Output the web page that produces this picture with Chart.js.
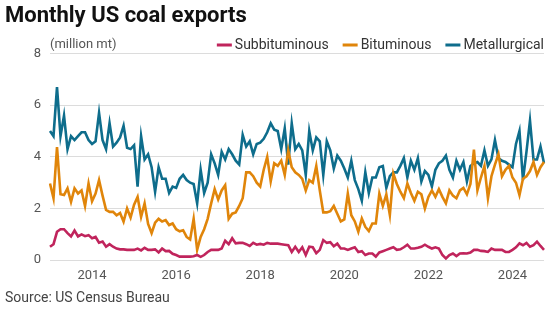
<!DOCTYPE html>
<html>
<head>
<meta charset="utf-8">
<script src="https://cdn.jsdelivr.net/npm/chart.js@4.4.1/dist/chart.umd.min.js"></script>
<style>
  html, body { margin: 0; padding: 0; background: #fff; }
</style>
</head>
<body>
<canvas id="coalChart" width="554" height="323"></canvas>
<script>
// months Jan 2013 .. Oct 2024
const startYear = 2013, endYear = 2024, endMonth = 10;
const months = [];
for (let y = startYear; y <= endYear; y++) {
  for (let m = 1; m <= 12; m++) {
    if (y === endYear && m > endMonth) break;
    months.push(y + '-' + String(m).padStart(2, '0'));
  }
}
const yearTicks = ['2014', '2016', '2018', '2020', '2022', '2024'];

const subbituminous = [
  0.52, 0.62, 1.1, 1.2, 1.2, 1.05, 0.92, 1.15, 0.92, 1.0, 0.93, 0.97,
  0.85, 0.9, 0.68, 0.72, 0.52, 0.62, 0.52, 0.45, 0.42, 0.42, 0.4, 0.4,
  0.4, 0.45, 0.38, 0.48, 0.4, 0.4, 0.42, 0.3, 0.45, 0.35, 0.36, 0.25,
  0.2, 0.14, 0.14, 0.14, 0.14, 0.15, 0.2, 0.13, 0.2, 0.32, 0.4, 0.4,
  0.4, 0.45, 0.75, 0.62, 0.85, 0.65, 0.67, 0.67, 0.62, 0.55, 0.67, 0.6,
  0.63, 0.6, 0.67, 0.64, 0.64, 0.64, 0.62, 0.6, 0.58, 0.32, 0.52, 0.32,
  0.5, 0.2, 0.52, 0.5, 0.27, 0.4, 0.78, 0.67, 0.7, 0.54, 0.64, 0.45,
  0.45, 0.4, 0.45, 0.5, 0.32, 0.35, 0.2, 0.26, 0.26, 0.14, 0.3, 0.35,
  0.4, 0.45, 0.5, 0.4, 0.42, 0.5, 0.6, 0.45, 0.45, 0.48, 0.52, 0.6,
  0.52, 0.45, 0.5, 0.45, 0.2, 0.07, 0.2, 0.26, 0.16, 0.26, 0.27, 0.26,
  0.3, 0.4, 0.4, 0.36, 0.35, 0.32, 0.45, 0.4, 0.4, 0.4, 0.32, 0.32,
  0.4, 0.5, 0.65, 0.58, 0.67, 0.52, 0.58, 0.72, 0.55, 0.4
];

const bituminous = [
  2.97, 2.4, 4.38, 2.55, 2.52, 2.78, 2.26, 2.78, 2.58, 2.7, 2.1, 2.97,
  2.28, 2.58, 3.1, 2.5, 1.95, 1.87, 1.87, 1.74, 1.83, 1.49, 2.0, 1.65,
  2.15, 2.45, 1.68, 2.2, 1.4, 1.05, 1.45, 1.6, 1.5, 1.55, 1.36, 1.42,
  1.2, 1.12, 1.16, 0.9, 0.8, 1.6, 0.4, 0.9, 1.2, 1.6, 2.2, 2.75,
  2.35, 2.7, 2.9, 1.6, 1.8, 1.85, 2.1, 2.4, 3.4, 3.4, 3.25, 3.0,
  2.85, 3.5, 4.0, 3.05, 3.75, 3.65, 3.85, 3.3, 4.25, 3.6, 3.4, 3.3,
  3.15, 2.7, 3.1, 3.0, 3.65, 2.7, 1.85, 1.85, 1.9, 2.1, 1.8, 1.5,
  1.58, 2.58, 1.74, 1.5, 1.1, 1.61, 1.29, 1.13, 1.42, 1.42, 2.58, 2.1,
  2.55, 1.75, 3.35, 2.95, 2.65, 2.4, 2.97, 2.6, 2.3, 2.65, 2.55, 2.0,
  2.45, 2.7, 2.45, 2.75, 2.45, 2.2, 2.7, 2.5, 2.4, 2.7, 2.8, 2.55,
  2.95, 4.28, 2.7, 3.2, 3.65, 2.4, 3.25, 3.7, 4.1, 3.25, 3.5, 3.65,
  3.2, 3.0, 2.52, 3.15, 3.25, 3.45, 3.8, 3.3, 3.6, 3.8
];

const metallurgical = [
  5.0, 4.8, 6.7, 4.8, 5.6, 4.3, 4.8, 4.65, 4.8, 4.95, 4.95, 4.65,
  4.5, 4.6, 5.7, 4.65, 4.3, 5.3, 4.4, 4.55, 4.75, 5.2, 4.35, 4.3,
  4.45, 2.85, 4.8, 3.9, 4.1, 3.6, 2.65, 3.6, 3.15, 3.15, 2.6, 2.85,
  2.8, 3.15, 3.3, 3.1, 3.0, 2.95, 2.2, 3.5, 2.6, 3.0, 4.1, 3.75,
  3.3, 4.2, 3.9, 4.3, 4.1, 3.85, 3.7, 4.85, 4.4, 4.6, 4.1, 4.5,
  4.55, 4.7, 4.95, 5.3, 5.05, 5.0, 4.3, 5.1, 3.7, 5.3, 4.3, 4.5,
  4.25, 3.3, 5.0, 4.25, 4.75, 4.6, 3.3, 4.6, 4.25, 3.55, 4.05, 3.85,
  3.55, 3.2, 3.85, 3.1, 2.75, 2.3, 3.4, 2.6, 3.2, 3.2, 3.6, 3.65,
  2.8, 3.25, 3.4, 3.4, 3.65, 3.95, 3.2, 3.85, 3.5, 3.95, 3.05, 3.45,
  3.3, 2.85, 3.5, 3.75, 3.85, 4.05, 3.5, 3.2, 3.85, 3.5, 3.8, 3.05,
  3.65, 3.75, 3.8, 3.65, 4.25, 3.65, 3.9, 4.65, 3.95, 3.85, 3.8, 3.7,
  3.6, 4.5, 5.0, 3.1, 4.2, 5.4, 3.9, 3.9, 4.4, 3.75
];

const fontFamily = 'Roboto, "Liberation Sans", sans-serif';

// legend row and unit label, drawn in the gap between title and plot
const legendRow = {
  id: 'legendRow',
  afterDraw(chart) {
    const ctx = chart.ctx;
    const y = 45;
    ctx.save();
    ctx.textBaseline = 'middle';
    ctx.textAlign = 'left';
    ctx.font = '13px ' + fontFamily;
    ctx.fillStyle = '#555';
    ctx.fillText('(million mt)', 50, y);
    ctx.font = '14px ' + fontFamily;
    let x = chart.chartArea.right;
    const sets = chart.data.datasets;
    for (let i = sets.length - 1; i >= 0; i--) {
      const w = ctx.measureText(sets[i].label).width;
      x -= w;
      ctx.fillStyle = '#333';
      ctx.fillText(sets[i].label, x, y);
      x -= 3 + 15;
      ctx.fillStyle = sets[i].borderColor;
      ctx.fillRect(x, y - 1.5, 15, 3);
      x -= 14;
    }
    ctx.restore();
  }
};

new Chart(document.getElementById('coalChart'), {
  type: 'line',
  data: {
    labels: months,
    datasets: [
      { label: 'Subbituminous', data: subbituminous, borderColor: '#c0245c', backgroundColor: '#c0245c' },
      { label: 'Bituminous', data: bituminous, borderColor: '#e0850a', backgroundColor: '#e0850a' },
      { label: 'Metallurgical', data: metallurgical, borderColor: '#0e6d8c', backgroundColor: '#0e6d8c' }
    ]
  },
  options: {
    responsive: false,
    animation: false,
    elements: {
      line: { borderWidth: 2.6, tension: 0 },
      point: { radius: 0 }
    },
    layout: { padding: { left: 5, right: 10, top: 0, bottom: 16 } },
    plugins: {
      legend: { display: false },
      tooltip: { enabled: false },
      title: {
        display: true,
        text: 'Monthly US coal exports',
        align: 'start',
        color: '#111',
        font: { family: fontFamily, size: 22, weight: 'bold' },
        padding: { top: 3.5, bottom: 23.6 }
      },
      subtitle: {
        display: true,
        position: 'bottom',
        text: 'Source: US Census Bureau',
        align: 'start',
        color: '#444',
        font: { family: fontFamily, size: 14 },
        padding: { top: 3, bottom: 0 }
      }
    },
    scales: {
      x: {
        grid: { display: false, drawTicks: false },
        border: { display: false },
        ticks: {
          autoSkip: false,
          maxRotation: 0,
          minRotation: 0,
          padding: 8,
          color: '#555',
          font: { family: fontFamily, size: 13 },
          callback: function (value) {
            const lab = this.getLabelForValue(value);
            const yr = lab.slice(0, 4);
            return (lab.endsWith('-01') && yearTicks.includes(yr)) ? yr : null;
          }
        },
        afterFit: function (scale) { scale.height = 27; }
      },
      y: {
        min: 0,
        max: 8,
        grid: { color: '#dcdcdc', lineWidth: 1, drawTicks: false },
        border: { display: false },
        ticks: {
          stepSize: 2,
          padding: 9,
          color: '#555',
          font: { family: fontFamily, size: 13 }
        },
        afterFit: function (scale) { scale.width = 45; }
      }
    }
  },
  plugins: [legendRow]
});
</script>
</body>
</html>
